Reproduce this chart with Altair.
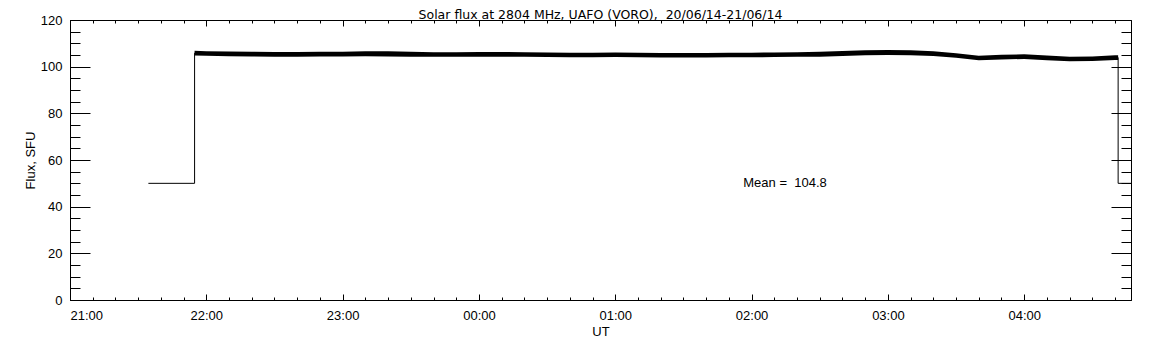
import altair as alt
import pandas as pd

# ---------------- text ----------------
title_text = "Solar flux at 2804 MHz, UAFO (VORO),  20/06/14-21/06/14"
x_title = "UT"
y_title = "Flux, SFU"
mean_label = "Mean =  104.8"
mean_pos_time = "01:56:20"
mean_pos_value = 50

# ---------------- axes ----------------
hour_labels = ["21:00", "22:00", "23:00", "00:00", "01:00", "02:00", "03:00", "04:00"]
axis_start = "21:00:00"
axis_end = "04:47:00"
y_major = [0, 20, 40, 60, 80, 100, 120]
y_minor = [0, 5, 10, 15, 20, 25, 30, 35, 40, 45, 50, 55, 60, 65, 70, 75, 80, 85,
           90, 95, 100, 105, 110, 115, 120]

# ---------------- data ----------------
# left plateau before the receiver switched to the Sun
lead_times = ["21:34:30", "21:54:50"]
lead_values = [50, 50]

# flux band (lower / upper envelope of the noisy record)
band_times = ["21:54:50", "22:00:00", "22:10:00", "22:20:00", "22:30:00", "22:40:00",
              "22:50:00", "23:00:00", "23:10:00", "23:20:00", "23:30:00", "23:40:00",
              "23:50:00", "00:00:00", "00:10:00", "00:20:00", "00:30:00", "00:40:00",
              "00:50:00", "01:00:00", "01:10:00", "01:20:00", "01:30:00", "01:40:00",
              "01:50:00", "02:00:00", "02:10:00", "02:20:00", "02:30:00", "02:40:00",
              "02:50:00", "03:00:00", "03:10:00", "03:20:00", "03:30:00", "03:40:00",
              "03:50:00", "04:00:00", "04:10:00", "04:20:00", "04:30:00", "04:40:00",
              "04:41:20"]
band_low = [104.8, 104.7, 104.5, 104.4, 104.3, 104.3, 104.4, 104.4, 104.5, 104.4,
            104.3, 104.2, 104.2, 104.3, 104.3, 104.2, 104.1, 104.0, 104.0, 104.1,
            104.0, 103.9, 103.9, 103.9, 104.0, 104.0, 104.1, 104.2, 104.3, 104.6,
            104.9, 105.0, 104.9, 104.6, 103.8, 102.7, 103.1, 103.3, 102.8, 102.3,
            102.4, 102.9, 102.9]
band_high = [106.8, 106.6, 106.5, 106.4, 106.3, 106.3, 106.4, 106.4, 106.6, 106.6,
             106.4, 106.2, 106.2, 106.3, 106.3, 106.2, 106.1, 106.0, 106.0, 106.1,
             106.0, 105.9, 105.9, 105.9, 106.0, 106.0, 106.1, 106.2, 106.4, 106.7,
             107.0, 107.1, 107.0, 106.6, 105.8, 104.7, 105.1, 105.3, 104.8, 104.3,
             104.4, 104.9, 104.9]

# right step back down after the observation
tail_times = ["04:41:20", "04:47:00"]
tail_values = [50, 50]


def hours(t):
    parts = [int(p) for p in t.split(":")]
    h, m, s = parts[0], parts[1], parts[2]
    v = h + m / 60 + s / 3600
    if h < 12:
        v += 24
    return v - 21


x0 = hours(axis_start)
x1 = hours(axis_end)

band_df = pd.DataFrame({
    "h": [hours(t) for t in band_times],
    "lo": band_low,
    "hi": band_high,
})
band_df["mid"] = (band_df["lo"] + band_df["hi"]) / 2

line_h = [hours(t) for t in lead_times] + list(band_df["h"]) + [hours(t) for t in tail_times]
line_v = lead_values + list(band_df["mid"]) + tail_values
line_df = pd.DataFrame({"h": line_h, "v": line_v, "i": list(range(len(line_h)))})

FONT = "Liberation Sans"
xscale = alt.Scale(domain=[x0, x1], nice=False, zero=False)
yscale = alt.Scale(domain=[0, 120], nice=False)

hour_vals = list(range(len(hour_labels)))
minor_x = [k / 6 for k in range(int(x1 * 6) + 1)]
label_expr = "[" + ",".join("'" + s + "'" for s in hour_labels) + "][round(datum.value)]"

common_axis = dict(domain=False, grid=False, tickColor="black", labelColor="black",
                   titleColor="black", labelFont=FONT, titleFont=FONT,
                   labelFontSize=13, titleFontSize=13, titleFontWeight="normal",
                   tickWidth=1)

x_major_axis = alt.Axis(orient="bottom", values=hour_vals, labelExpr=label_expr,
                        tickSize=6, offset=-6, labelPadding=9, title=x_title,
                        titlePadding=3, **common_axis)
x_minor_axis = alt.Axis(orient="bottom", values=minor_x, tickSize=3, offset=-3,
                        labels=False, title=None, **common_axis)
x_top_major = alt.Axis(orient="top", values=hour_vals, tickSize=6, offset=-6,
                       labels=False, title=None, **common_axis)
x_top_minor = alt.Axis(orient="top", values=minor_x, tickSize=3, offset=-3,
                       labels=False, title=None, **common_axis)

y_major_axis = alt.Axis(orient="left", values=y_major, tickSize=20, offset=-20,
                        labelPadding=8, title=y_title, titlePadding=3, **common_axis)
y_minor_axis = alt.Axis(orient="left", values=y_minor, tickSize=10, offset=-10,
                        labels=False, title=None, **common_axis)
y_right_major = alt.Axis(orient="right", values=y_major, tickSize=20, offset=-20,
                         labels=False, title=None, **common_axis)
y_right_minor = alt.Axis(orient="right", values=y_minor, tickSize=10, offset=-10,
                         labels=False, title=None, **common_axis)

line = alt.Chart(line_df).mark_line(color="black", strokeWidth=1, clip=True).encode(
    x=alt.X("h:Q", scale=xscale, axis=x_major_axis),
    y=alt.Y("v:Q", scale=yscale, axis=y_major_axis),
    order="i:Q",
)

band = alt.Chart(band_df).mark_area(color="black", clip=True).encode(
    x=alt.X("h:Q", scale=xscale, axis=x_minor_axis),
    y=alt.Y("lo:Q", scale=yscale, axis=y_minor_axis),
    y2="hi:Q",
)

ghost1 = alt.Chart(line_df).mark_line(opacity=0).encode(
    x=alt.X("h:Q", scale=xscale, axis=x_top_major),
    y=alt.Y("v:Q", scale=yscale, axis=y_right_major),
)
ghost2 = alt.Chart(line_df).mark_line(opacity=0).encode(
    x=alt.X("h:Q", scale=xscale, axis=x_top_minor),
    y=alt.Y("v:Q", scale=yscale, axis=y_right_minor),
)

mean_text = alt.Chart(pd.DataFrame({"t": [mean_label.replace(" ", "\u00a0")]})).mark_text(
    align="left", baseline="middle", font=FONT, fontSize=13, color="black"
).encode(
    x=alt.XDatum(hours(mean_pos_time), axis=None),
    y=alt.YDatum(mean_pos_value, axis=None),
    text="t:N",
)

chart = alt.layer(line, band, ghost1, ghost2, mean_text).resolve_scale(
    x="shared", y="shared"
).resolve_axis(
    x="independent", y="independent"
).properties(
    width=1061, height=280,
    padding={"left": 62, "top": 12, "right": 12, "bottom": 45},
    autosize=alt.AutoSizeParams(type="none"),
    title=alt.TitleParams(text=title_text.replace("  ", " \u00a0"), font="DejaVu Sans",
                          fontSize=12.5, fontWeight="normal",
                          color="black", anchor="middle", offset=-7.5),
    background="white",
).configure_view(stroke="black", strokeWidth=1)

chart.save("out.html", embed_options={"renderer": "svg", "actions": False})
